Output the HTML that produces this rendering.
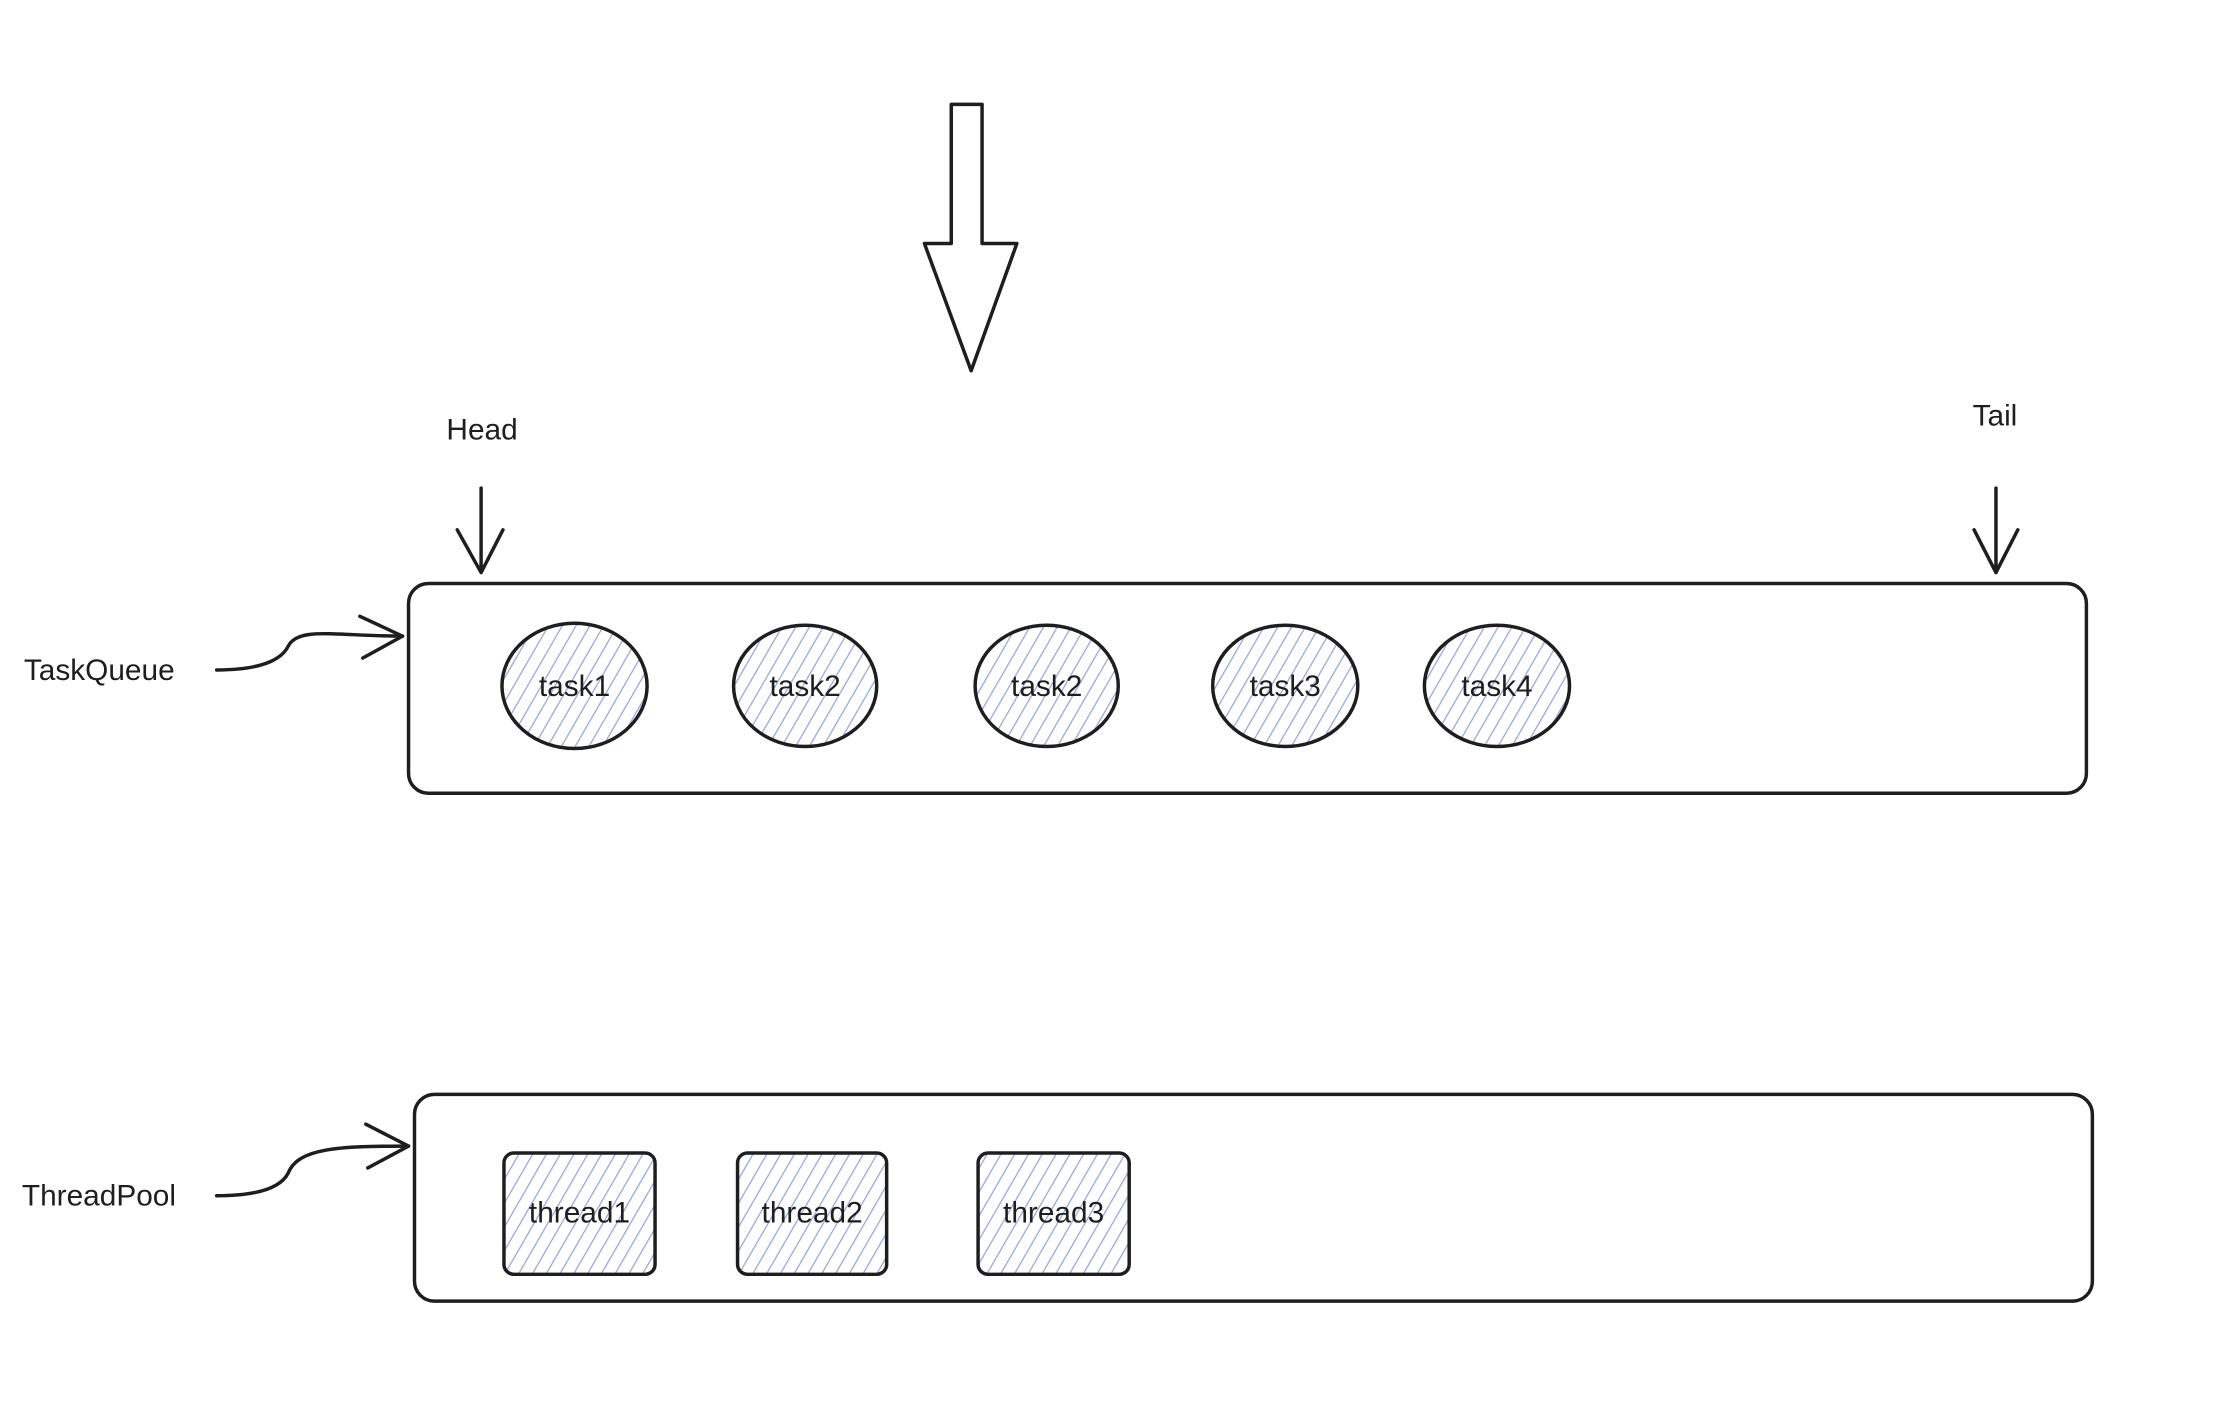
<!DOCTYPE html>
<html><head><meta charset="utf-8"><style>
html,body{margin:0;padding:0;background:#fff;}
svg{display:block;}
text{font-family:"Liberation Sans",sans-serif;fill:#1e1e1e;}
</style></head><body>
<svg width="2234" height="1402" viewBox="0 0 2234 1402" xmlns="http://www.w3.org/2000/svg">
<defs>
<pattern id="h" patternUnits="userSpaceOnUse" width="12" height="12" patternTransform="rotate(30)">
<rect width="12" height="12" fill="#fff"/>
<line x1="0" y1="0" x2="0" y2="12" stroke="#8fa8dc" stroke-width="2.5"/>
</pattern>
</defs>
<g transform="scale(0.994)">
<g fill="none" stroke="#1e1e1e" stroke-width="3.5" stroke-linecap="round" stroke-linejoin="round">
<path d="M957 105 L988 105 L988 245 L1023 245 L977 373 L930 245 L957 245 Z" fill="#fff"/>
<rect x="411" y="587" width="1688" height="211" rx="20" fill="#fff"/>
<rect x="417" y="1101" width="1688" height="208" rx="20" fill="#fff"/>
<path d="M484 491 L484 575 M460 533 L484 576 L506 533"/>
<path d="M2008 491 L2008 575 M1986 533 L2008 576 L2030 533"/>
<path d="M218 674 C270 674 285 660 290 650 C300 630 340 640 405 640"/>
<path d="M362 620 L405 640 L365 662"/>
<path d="M218 1203 C270 1203 285 1190 290 1180 C300 1155 340 1153 411 1153"/>
<path d="M368 1131 L411 1153 L370 1175"/>
</g>
<g stroke="#1e1e1e" stroke-width="3.5">
<ellipse cx="578" cy="690" rx="73" ry="63" fill="url(#h)"/>
<ellipse cx="810" cy="690" rx="72" ry="61" fill="url(#h)"/>
<ellipse cx="1053" cy="690" rx="72" ry="61" fill="url(#h)"/>
<ellipse cx="1293" cy="690" rx="73" ry="61" fill="url(#h)"/>
<ellipse cx="1506" cy="690" rx="73" ry="61" fill="url(#h)"/>
<rect x="507" y="1160" width="152" height="122" rx="10" fill="url(#h)"/>
<rect x="742" y="1160" width="150" height="122" rx="10" fill="url(#h)"/>
<rect x="984" y="1160" width="152" height="122" rx="10" fill="url(#h)"/>
</g>
<g font-size="30" text-anchor="middle">
<text x="578" y="700">task1</text>
<text x="810" y="700">task2</text>
<text x="1053" y="700">task2</text>
<text x="1293" y="700">task3</text>
<text x="1506" y="700">task4</text>
<text x="583" y="1230">thread1</text>
<text x="817" y="1230">thread2</text>
<text x="1060" y="1230">thread3</text>
<text x="485" y="442">Head</text>
<text x="2007" y="428">Tail</text>
</g>
<g font-size="30">
<text x="24" y="684">TaskQueue</text>
<text x="22" y="1213">ThreadPool</text>
</g>
</g>
</svg>
</body></html>
